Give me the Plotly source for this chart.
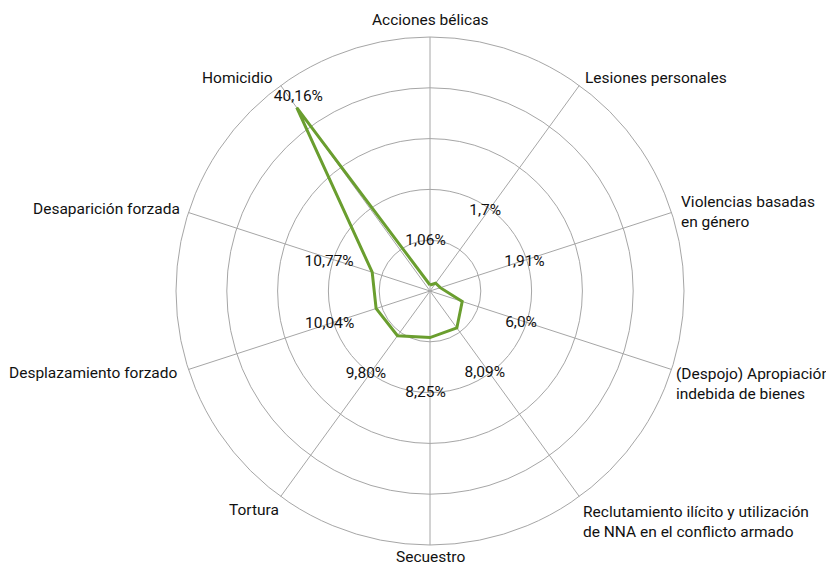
import plotly.graph_objects as go

categories = ["Acciones bélicas", "Lesiones personales", "Violencias basadas<br>en género",
              "(Despojo) Apropiación<br>indebida de bienes",
              "Reclutamiento ilícito y utilización<br>de NNA en el conflicto armado",
              "Secuestro", "Tortura", "Desplazamiento forzado", "Desaparición forzada", "Homicidio"]
angles = [0, 36, 72, 108, 144, 180, 216, 252, 288, 324]
values = [1.06, 1.7, 1.91, 6.0, 8.09, 8.25, 9.80, 10.04, 10.77, 40.16]
value_labels = ["1,06%", "1,7%", "1,91%", "6,0%", "8,09%", "8,25%", "9,80%", "10,04%", "10,77%", "40,16%"]

# label placement (polar, data units / degrees)
label_r = [8.8, 17.2, 17.5, 17.1, 17.5, 18.1, 18.6, 18.7, 18.6, 41.5]
label_theta = [354.8, 34.7, 73, 109.4, 146.3, 182.5, 217.6, 251.8, 286, 325.8]

# category label placement (pixels in the 834x566 page)
cat_pos = [(430, 20, "center"), (583, 78, "left"), (679, 212, "left"), (674, 384, "left"),
           (581, 522, "left"), (430, 557, "center"), (281, 510, "right"), (180, 373, "right"),
           (182, 209, "right"), (275, 78, "right")]

OFF = 8  # default page body margin
W, H = 834 - OFF, 566 - OFF
FONT = "Roboto, 'Liberation Sans', Arial, sans-serif"
FS = 15.5
GREEN = "#6A9E2F"
GRID = "#A6A6A6"


def px_x(v):
    return (v - OFF) / W


def px_y(v):
    return 1 - (v - OFF) / H


fig = go.Figure()
fig.add_trace(go.Scatterpolar(
    r=values + values[:1], theta=angles + angles[:1], mode="lines",
    line=dict(color=GREEN, width=3), hoverinfo="skip", showlegend=False))
fig.add_trace(go.Scatterpolar(
    r=label_r, theta=label_theta, mode="text", text=value_labels,
    textfont=dict(family=FONT, size=FS, color="#111111"), textposition="middle center",
    hoverinfo="skip", showlegend=False))

annotations = []
for name, (px, py, anc) in zip(categories, cat_pos):
    annotations.append(dict(text=name, x=px_x(px), y=px_y(py), xref="paper", yref="paper",
                            xanchor=anc, yanchor="middle", align=anc,
                            showarrow=False, font=dict(family=FONT, size=FS, color="#111111")))

cx, cy, R = 430, 291, 254
fig.update_layout(
    width=W, height=H, margin=dict(l=0, r=0, t=0, b=0),
    paper_bgcolor="white", plot_bgcolor="white",
    polar=dict(
        domain=dict(x=[px_x(cx - R), px_x(cx + R)], y=[px_y(cy + R), px_y(cy - R)]),
        bgcolor="white",
        angularaxis=dict(rotation=90, direction="clockwise", thetaunit="degrees",
                         tickmode="array", tickvals=angles, showticklabels=False, ticks="",
                         showgrid=True, gridcolor=GRID, gridwidth=1,
                         showline=True, linecolor=GRID, linewidth=1),
        radialaxis=dict(range=[0, 45], dtick=9, showticklabels=False, ticks="",
                        showgrid=True, gridcolor=GRID, gridwidth=1, showline=False),
    ),
    annotations=annotations,
)
fig.write_html("out.html")
